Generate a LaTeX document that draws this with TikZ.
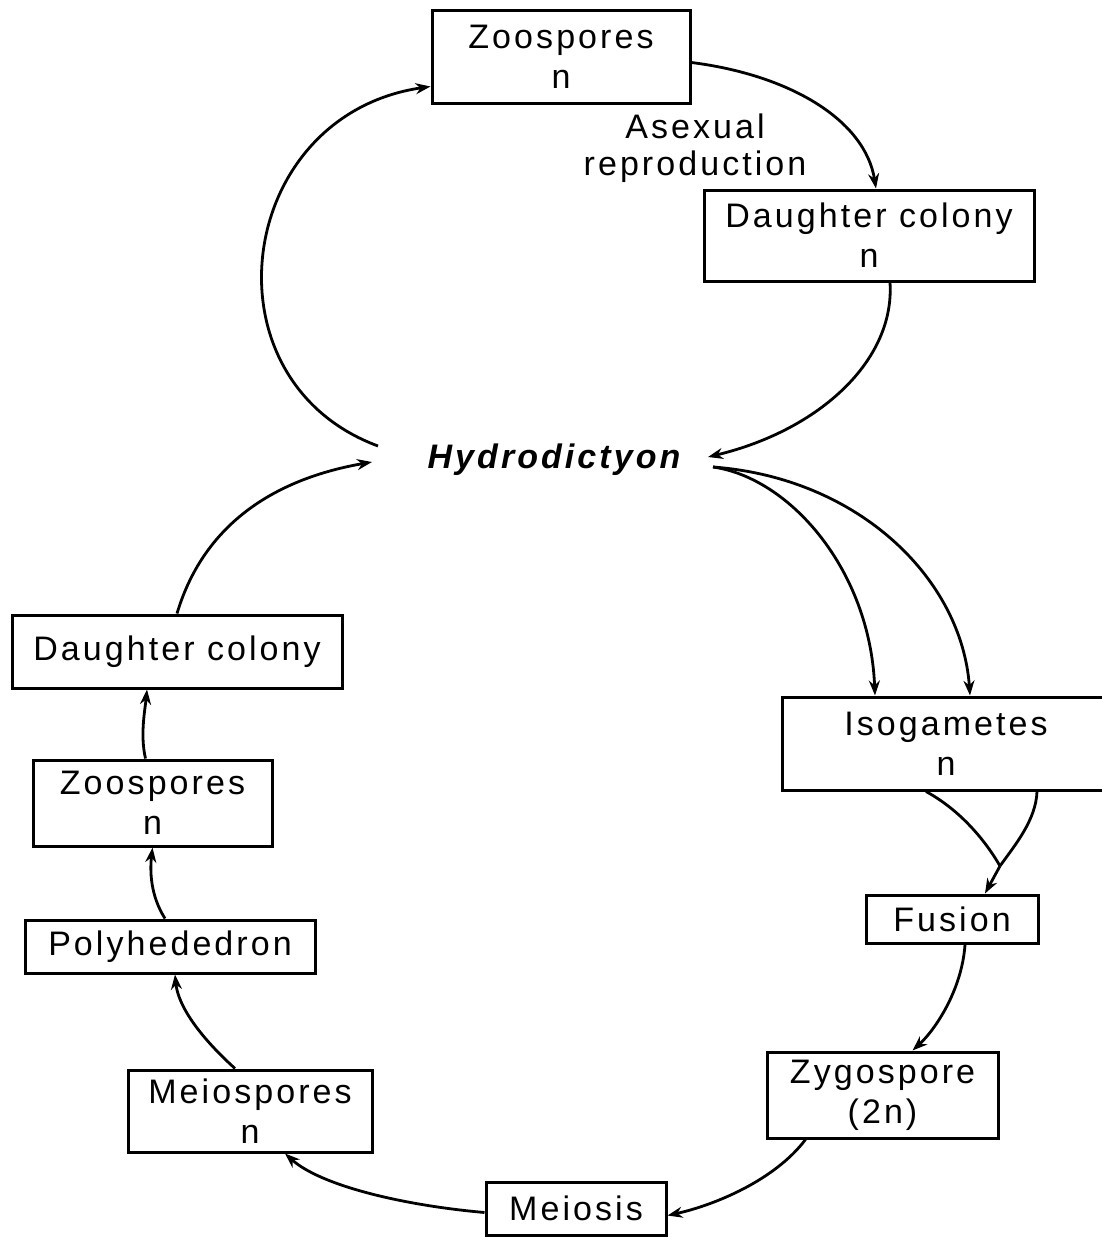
\documentclass[tikz,border=0pt]{standalone}
\usepackage{fontspec}
\setmainfont{Liberation Sans}
\newfontfamily\labfont[LetterSpace=9]{Liberation Sans}
\usetikzlibrary{arrows.meta}
\begin{document}
\begin{tikzpicture}[x=1pt,y=-1pt,
  box/.style={draw, line width=3pt, inner sep=0pt, align=center,
    font=\labfont\fontsize{34}{40}\selectfont},
  lbl/.style={inner sep=0pt, align=center, font=\labfont\fontsize{34}{37}\selectfont},
  conn/.style={line width=2.8pt, -{Stealth[length=15pt,width=11pt]}},
  plainline/.style={line width=2.8pt}]
\useasboundingbox[fill=white] (0,0) rectangle (1102,1237);

% nodes
\node[box, minimum width=258pt, minimum height=93pt] (zt) at (561,56.5) {Zoospores\\n};
\node[lbl] (asx) at (695,148) {Asexual\\reproduction};
\node[box, minimum width=330pt, minimum height=91pt] (dr) at (869,235.5) {Daughter colony\\n};
\node[inner sep=0pt, font=\labfont\fontsize{34}{40}\selectfont\bfseries\itshape] (hyd) at (554,460) {Hydrodictyon};
\node[box, minimum width=330pt, minimum height=73pt] (dl) at (177,651.5) {Daughter colony};
\node[box, minimum width=239pt, minimum height=86pt] (zl) at (152.5,803) {Zoospores\\n};
\node[box, minimum width=290pt, minimum height=53pt] (poly) at (170,946.5) {Polyhededron};
\node[box, minimum width=244pt, minimum height=82pt] (msp) at (250,1111) {Meiospores\\n};
\node[box, minimum width=180pt, minimum height=53pt] (mei) at (576,1208.5) {Meiosis};
\node[box, minimum width=231pt, minimum height=86pt] (zyg) at (882.5,1095) {Zygospore\\(2n)};
\node[box, minimum width=172pt, minimum height=48pt] (fus) at (952,919) {Fusion};
\node[box, minimum width=328pt, minimum height=93pt] (iso) at (946,743.5) {Isogametes\\n};

% free ends near the label
\coordinate (hA) at (378,446);
\coordinate (hR) at (708,457);
\coordinate (hR2) at (713,467);
\coordinate (hL) at (372,462);
\coordinate (mrg) at (1000,866);

% connectors
\draw[conn] (hA) .. controls (200,380) and (235,115) .. ([yshift=-30pt]zt.west);
\draw[conn] ([yshift=-6pt]zt.east) .. controls (790,75) and (865,120) .. ([xshift=7pt]dr.north);
\draw[conn] ([xshift=21pt]dr.south) .. controls (895,360) and (820,430) .. (hR);
\draw[conn] (hR2) .. controls (790,478) and (870,570) .. ([xshift=-71pt]iso.north);
\draw[conn] (hR2) .. controls (860,478) and (962,580) .. ([xshift=24pt]iso.north);
\draw[plainline] ([xshift=-20pt]iso.south) .. controls (960,810) and (985,840) .. (mrg);
\draw[plainline] ([xshift=91pt]iso.south) .. controls (1036,820) and (1015,845) .. (mrg);
\draw[conn] (mrg) -- ([xshift=33pt]fus.north);
\draw[conn] ([xshift=13pt]fus.south) .. controls (962,990) and (935,1030) .. ([xshift=30pt]zyg.north);
\draw[conn] ([xshift=-77pt]zyg.south) .. controls (775,1180) and (715,1205) .. ([yshift=-7pt]mei.east);
\draw[conn] ([yshift=-4pt]mei.west) .. controls (400,1205) and (320,1185) .. ([xshift=35pt]msp.south);
\draw[conn] ([xshift=-15pt]msp.north) .. controls (198,1035) and (178,1005) .. ([xshift=5pt]poly.south);
\draw[conn] ([xshift=-5pt]poly.north) .. controls (150,895) and (150,870) .. (zl.south);
\draw[conn] ([xshift=-7pt]zl.north) .. controls (140,735) and (145,710) .. ([xshift=-30pt]dl.south);
\draw[conn] (dl.north) .. controls (205,520) and (280,478) .. (hL);
\end{tikzpicture}
\end{document}
